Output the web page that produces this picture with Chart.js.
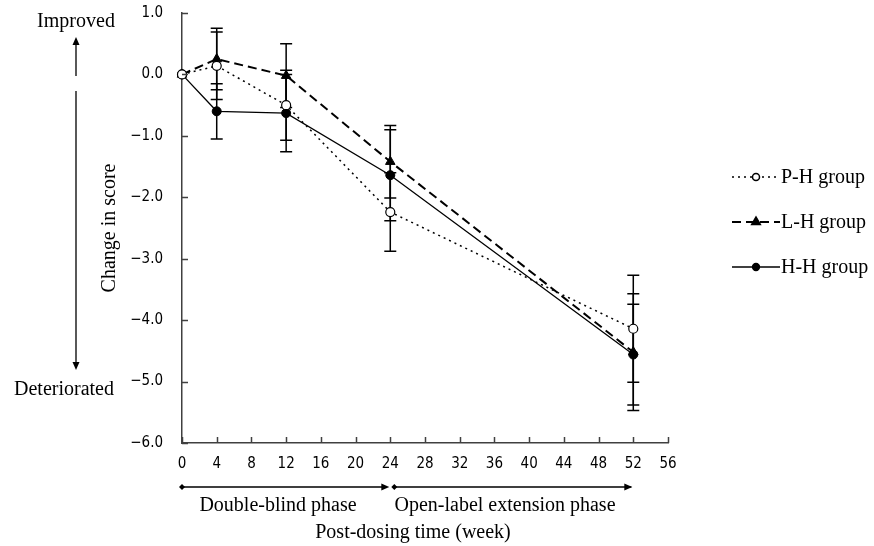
<!DOCTYPE html>
<html>
<head>
<meta charset="utf-8">
<script src="https://cdn.jsdelivr.net/npm/chart.js@4.4.1/dist/chart.umd.min.js"></script>
<style>
  body { margin: 0; background: #fff; }
  canvas { display: block; }
</style>
</head>
<body>
<canvas id="scoreChart" width="874" height="546"></canvas>
<script>
// weeks after dosing
const weeks = [0, 4, 12, 24, 52];

// mean change in score and SD per group
const phMean = [0, 0.14, -0.50, -2.24, -4.14];
const phSd   = [0, 0.55, 0.57, 0.64, 0.87];
const lhMean = [0, 0.25, -0.02, -1.42, -4.52];
const lhSd   = [0, 0.50, 0.52, 0.59, 0.95];
const hhMean = [0, -0.60, -0.63, -1.64, -4.56];
const hhSd   = [0, 0.45, 0.63, 0.74, 0.82];

const groupNames = ['P-H group', 'L-H group', 'H-H group'];

const xMin = 0, xMax = 56, xStep = 4;
const yMin = -6, yMax = 1, yStep = 1;

const serif = '"Liberation Serif", "Times New Roman", serif';
const tickFont = '"Liberation Sans Narrow", "DejaVu Sans Condensed", sans-serif';

function toPoints(mean) {
    return weeks.map((w, i) => ({ x: w, y: mean[i] }));
}

// little filled arrow head, tip at (x, y)
function arrowHead(ctx, x, y, dir) {
    ctx.beginPath();
    if (dir === 'up') {
        ctx.moveTo(x, y); ctx.lineTo(x - 3.5, y + 8); ctx.lineTo(x + 3.5, y + 8);
    } else if (dir === 'down') {
        ctx.moveTo(x, y); ctx.lineTo(x - 3.5, y - 8); ctx.lineTo(x + 3.5, y - 8);
    } else {
        ctx.moveTo(x, y); ctx.lineTo(x - 8, y - 3.5); ctx.lineTo(x - 8, y + 3.5);
    }
    ctx.closePath();
    ctx.fill();
}

function dot(ctx, x, y) {
    ctx.beginPath();
    ctx.moveTo(x - 3, y); ctx.lineTo(x, y - 3); ctx.lineTo(x + 3, y); ctx.lineTo(x, y + 3);
    ctx.closePath();
    ctx.fill();
}

// mean +/- SD whiskers, drawn under the markers
const errorBars = {
    id: 'errorBars',
    beforeDatasetsDraw(chart) {
        const ctx = chart.ctx;
        const xs = chart.scales.x, ys = chart.scales.y;
        ctx.save();
        ctx.strokeStyle = '#000';
        ctx.lineWidth = 1.5;
        chart.data.datasets.forEach(ds => {
            ds.sd.forEach((sd, i) => {
                if (!sd) return;
                const px = xs.getPixelForValue(weeks[i]);
                const top = ys.getPixelForValue(ds.mean[i] + sd);
                const bot = ys.getPixelForValue(ds.mean[i] - sd);
                ctx.beginPath();
                ctx.moveTo(px, top); ctx.lineTo(px, bot);
                ctx.moveTo(px - 6, top); ctx.lineTo(px + 6, top);
                ctx.moveTo(px - 6, bot); ctx.lineTo(px + 6, bot);
                ctx.stroke();
            });
        });
        ctx.restore();
    }
};

// tick marks pointing into the plot
const innerTicks = {
    id: 'innerTicks',
    afterDraw(chart) {
        const ctx = chart.ctx;
        const xs = chart.scales.x, ys = chart.scales.y;
        const area = chart.chartArea;
        ctx.save();
        ctx.strokeStyle = '#404040';
        ctx.lineWidth = 1.5;
        ctx.beginPath();
        xs.ticks.forEach(t => {
            const px = Math.round(xs.getPixelForValue(t.value)) + 0.5;
            ctx.moveTo(px, area.bottom); ctx.lineTo(px, area.bottom - 6);
        });
        ys.ticks.forEach(t => {
            const py = Math.round(ys.getPixelForValue(t.value)) + 0.5;
            ctx.moveTo(area.left, py); ctx.lineTo(area.left + 6, py);
        });
        ctx.stroke();
        ctx.restore();
    }
};

// axis captions, direction arrows and the study phases
const captions = {
    id: 'captions',
    afterDraw(chart) {
        const ctx = chart.ctx;
        const xs = chart.scales.x;
        ctx.save();
        ctx.fillStyle = '#000';
        ctx.strokeStyle = '#000';
        ctx.lineWidth = 1.3;
        ctx.font = '20px ' + serif;
        ctx.textAlign = 'center';
        ctx.textBaseline = 'middle';

        ctx.fillText('Improved', 76, 22);
        ctx.fillText('Deteriorated', 64, 390);

        ctx.beginPath();
        ctx.moveTo(76, 76); ctx.lineTo(76, 42);
        ctx.moveTo(76, 91); ctx.lineTo(76, 364);
        ctx.stroke();
        arrowHead(ctx, 76, 37, 'up');
        arrowHead(ctx, 76, 370, 'down');

        ctx.save();
        ctx.translate(110, 228);
        ctx.rotate(-Math.PI / 2);
        ctx.fillText('Change in score', 0, 0);
        ctx.restore();

        // phase arrows under the week axis
        const py = 487;
        const p0 = xs.getPixelForValue(0);
        const p24 = xs.getPixelForValue(24);
        const p52 = xs.getPixelForValue(52);
        ctx.beginPath();
        ctx.moveTo(p0, py); ctx.lineTo(p24 - 8, py);
        ctx.moveTo(p24 + 4, py); ctx.lineTo(p52 - 2, py);
        ctx.stroke();
        dot(ctx, p0, py);
        arrowHead(ctx, p24 - 1, py, 'right');
        dot(ctx, p24 + 4, py);
        arrowHead(ctx, p52 - 1, py, 'right');

        ctx.fillText('Double-blind phase', 278, 506);
        ctx.fillText('Open-label extension phase', 505, 506);
        ctx.fillText('Post-dosing time (week)', 413, 533);
        ctx.restore();
    }
};

// legend with a line sample and the marker in the middle
const sideLegend = {
    id: 'sideLegend',
    afterDraw(chart) {
        const ctx = chart.ctx;
        const rows = [177, 222, 267];
        ctx.save();
        chart.data.datasets.forEach((ds, i) => {
            const y = rows[i];
            ctx.strokeStyle = '#000';
            ctx.lineWidth = ds.borderWidth;
            ctx.setLineDash(ds.borderDash || []);
            ctx.beginPath();
            ctx.moveTo(732, y); ctx.lineTo(780, y);
            ctx.stroke();
            ctx.setLineDash([]);
            ctx.fillStyle = ds.pointBackgroundColor;
            Chart.helpers.drawPoint(ctx, {
                pointStyle: ds.pointStyle,
                radius: ds.pointStyle === 'triangle' ? 4.5 : 3.5,
                rotation: 0,
                borderWidth: 1
            }, 756, y);
            ctx.fillStyle = '#000';
            ctx.font = '20px ' + serif;
            ctx.textAlign = 'left';
            ctx.textBaseline = 'middle';
            ctx.fillText(ds.label, 781, y + 1);
        });
        ctx.restore();
    }
};

const datasets = [
    {
        label: groupNames[0], data: toPoints(phMean), mean: phMean, sd: phSd,
        borderColor: '#000', borderWidth: 1.5, borderDash: [2, 4],
        pointStyle: 'circle', pointRadius: 4.5, pointBackgroundColor: '#fff',
        pointBorderColor: '#000', pointBorderWidth: 1.2
    },
    {
        label: groupNames[1], data: toPoints(lhMean), mean: lhMean, sd: lhSd,
        borderColor: '#000', borderWidth: 2, borderDash: [9, 5],
        pointStyle: 'triangle', pointRadius: 5.5, pointBackgroundColor: '#000',
        pointBorderColor: '#000', pointBorderWidth: 1
    },
    {
        label: groupNames[2], data: toPoints(hhMean), mean: hhMean, sd: hhSd,
        borderColor: '#000', borderWidth: 1.3, borderDash: [],
        pointStyle: 'circle', pointRadius: 4.5, pointBackgroundColor: '#000',
        pointBorderColor: '#000', pointBorderWidth: 1
    }
];

new Chart(document.getElementById('scoreChart'), {
    type: 'scatter',
    data: { datasets: datasets.map(d => Object.assign({ showLine: true, clip: false, tension: 0 }, d)) },
    options: {
        responsive: false,
        animation: false,
        layout: { padding: { left: 0, right: 206, top: 13, bottom: 0 } },
        plugins: { legend: { display: false }, tooltip: { enabled: false } },
        scales: {
            x: {
                type: 'linear', min: xMin, max: xMax,
                afterFit: s => {
                    s.height = 103;
                    s.paddingLeft = 0; s.paddingRight = 0;
                },
                border: { color: '#404040', width: 1.5 },
                grid: { drawOnChartArea: false, drawTicks: false },
                ticks: {
                    stepSize: xStep, autoSkip: false, maxRotation: 0, padding: 12,
                    color: '#000', font: { family: tickFont, size: 15 }
                }
            },
            y: {
                type: 'linear', min: yMin, max: yMax,
                afterFit: s => {
                    s.width = 182;
                    s.paddingTop = 0; s.paddingBottom = 0;
                },
                border: { color: '#404040', width: 1.5 },
                grid: { drawOnChartArea: false, drawTicks: false },
                ticks: {
                    stepSize: yStep, padding: 19,
                    color: '#000', font: { family: tickFont, size: 15 },
                    callback: v => (v < 0 ? '\u2212' : '') + Math.abs(v).toFixed(1)
                }
            }
        }
    },
    plugins: [errorBars, innerTicks, captions, sideLegend]
});
</script>
</body>
</html>
